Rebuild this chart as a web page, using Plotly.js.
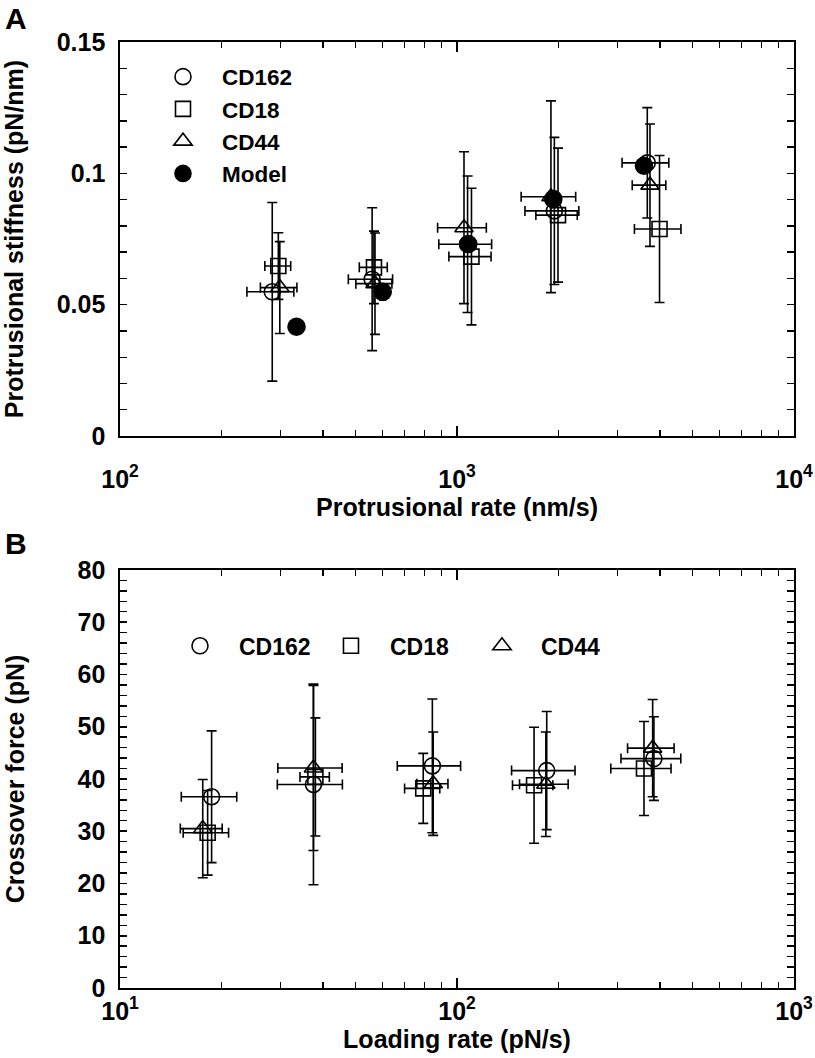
<!DOCTYPE html>
<html><head><meta charset="utf-8">
<script src="https://cdn.plot.ly/plotly-3.0.1.min.js"></script>
<style>html,body{margin:0;padding:0;background:#fff}#chart{width:815px;height:1058px}</style>
</head><body><div id="chart"></div>
<script>
// ---------- Panel A: protrusional stiffness vs protrusional rate ----------
const aNames = ['CD162', 'CD18', 'CD44', 'Model'];
const aCD162_x = [283, 560, 1075, 1945, 3670];
const aCD162_y = [0.0549, 0.0597, 0.0730, 0.0857, 0.1040];
const aCD162_xerr = [45, 84, 192, 354, 581];
const aCD162_yerr = [0.034, 0.0272, 0.026, 0.028, 0.021];

const aCD18_x = [295, 567, 1104, 1994, 3990];
const aCD18_y = [0.0647, 0.0642, 0.0683, 0.0841, 0.0788];
const aCD18_xerr = [26, 54, 158, 280, 629];
const aCD18_yerr = [0.0127, 0.0138, 0.026, 0.0255, 0.028];

const aCD44_x = [298, 571, 1049, 1900, 3738];
const aCD44_y = [0.0565, 0.0580, 0.0793, 0.0911, 0.0955];
const aCD44_xerr = [37, 70, 173, 350, 427];
const aCD44_yerr = [0.0175, 0.0193, 0.0289, 0.0365, 0.0233];

const aModel_x = [334, 602, 1080, 1931, 3588];
const aModel_y = [0.0416, 0.0549, 0.0731, 0.0902, 0.1029];

const aTickVals = [100, 1000, 10000];
const aTickText = ['10<sup>2</sup>', '10<sup>3</sup>', '10<sup>4</sup>'];

// ---------- Panel B: crossover force vs loading rate ----------
const bNames = ['CD162', 'CD18', 'CD44'];
const bCD162_x = [18.7, 37.5, 84.5, 184.6, 384];
const bCD162_y = [36.6, 38.95, 42.5, 41.6, 43.9];
const bCD162_xerr = [3.5, 8.2, 18, 39.4, 77.4];
const bCD162_yerr = [12.6, 19.2, 12.8, 11.3, 8.0];

const bCD18_x = [18.2, 38, 79.4, 169.3, 358.8];
const bCD18_y = [29.7, 40.4, 38.2, 38.8, 42.0];
const bCD18_xerr = [2.8, 3.8, 9.5, 23.2, 72.8];
const bCD18_yerr = [8.1, 11.3, 6.7, 11.1, 9.0];

const bCD44_x = [17.6, 37.5, 85, 183.5, 380.7];
const bCD44_y = [30.5, 42.1, 39.1, 39.0, 45.9];
const bCD44_xerr = [2.5, 8.1, 9, 30.2, 60];
const bCD44_yerr = [9.4, 15.8, 9.9, 10.0, 9.3];

const bTickVals = [10, 100, 1000];
const bTickText = ['10<sup>1</sup>', '10<sup>2</sup>', '10<sup>3</sup>'];

// ---------- styling ----------
const FONT = 'Liberation Sans, Arial, Helvetica, sans-serif';
const fnt = (size) => ({family: FONT, size: size, color: '#000', weight: 'bold'});
const errStyle = (arr) => ({type: 'data', array: arr, symmetric: true, visible: true,
  color: '#000', thickness: 1.6, width: 5});

function pts(name, x, y, xerr, yerr, symbol, xa, ya, legend, size) {
  const t = {
    type: 'scatter', mode: 'markers', name: name, x: x, y: y,
    xaxis: xa, yaxis: ya, legend: legend,
    marker: {symbol: symbol, size: size || 16, color: '#000', line: {color: '#000', width: 1.6}},
    cliponaxis: false
  };
  if (xerr) t.error_x = errStyle(xerr);
  if (yerr) t.error_y = errStyle(yerr);
  return t;
}

const data = [
  pts(aNames[0], aCD162_x, aCD162_y, aCD162_xerr, aCD162_yerr, 'circle-open', 'x', 'y', 'legend'),
  pts(aNames[1], aCD18_x, aCD18_y, aCD18_xerr, aCD18_yerr, 'square-open', 'x', 'y', 'legend', 15),
  pts(aNames[2], aCD44_x, aCD44_y, aCD44_xerr, aCD44_yerr, 'triangle-up-open', 'x', 'y', 'legend'),
  pts(aNames[3], aModel_x, aModel_y, null, null, 'circle', 'x', 'y', 'legend', 17),
  pts(bNames[0], bCD162_x, bCD162_y, bCD162_xerr, bCD162_yerr, 'circle-open', 'x2', 'y2', 'legend2'),
  pts(bNames[1], bCD18_x, bCD18_y, bCD18_xerr, bCD18_yerr, 'square-open', 'x2', 'y2', 'legend2', 15),
  pts(bNames[2], bCD44_x, bCD44_y, bCD44_xerr, bCD44_yerr, 'triangle-up-open', 'x2', 'y2', 'legend2')
];

function logX(range, anchor, title, tickvals, ticktext, labelStandoff, titleStandoff) {
  return {
    type: 'log', range: range, tickmode: 'array', tickvals: tickvals, ticktext: ticktext,
    anchor: anchor, domain: [0, 1], automargin: false,
    showline: true, linecolor: '#000', linewidth: 1.6, mirror: 'ticks',
    ticks: 'inside', ticklen: 10, tickwidth: 1.6, tickcolor: '#000',
    minor: {dtick: 'D1', ticks: 'inside', ticklen: 6, tickwidth: 1.4, tickcolor: '#000', showgrid: false},
    showgrid: false, zeroline: false, tickfont: fnt(25), ticklabelstandoff: labelStandoff,
    title: {text: title, font: fnt(25), standoff: titleStandoff}
  };
}
function linY(range, dtick, minorDtick, domain, anchor, title, standoff) {
  return {
    range: range, dtick: dtick, tick0: 0, domain: domain, anchor: anchor, automargin: false,
    showline: true, linecolor: '#000', linewidth: 1.6, mirror: 'ticks',
    ticks: 'inside', ticklen: 7, tickwidth: 1.6, tickcolor: '#000',
    minor: {dtick: minorDtick, ticks: 'inside', ticklen: 7, tickwidth: 1.4, tickcolor: '#000', showgrid: false},
    showgrid: false, zeroline: false, tickfont: fnt(25), ticklabelstandoff: 8,
    title: {text: title, font: fnt(25), standoff: standoff}
  };
}

const layout = {
  width: 815, height: 1058,
  margin: {l: 120, r: 21, t: 42, b: 70},
  paper_bgcolor: '#fff', plot_bgcolor: '#fff',
  font: fnt(23),
  xaxis: logX([2, 4], 'y', 'Protrusional rate (nm/s)', aTickVals, aTickText, 20, 1),
  yaxis: linY([0, 0.15], 0.05, 0.01, [0.5835, 1], 'x', 'Protrusional stiffness (pN/nm)', 26),
  xaxis2: logX([1, 3], 'y2', 'Loading rate (pN/s)', bTickVals, bTickText, 0, 1),
  yaxis2: linY([0, 80], 10, 2, [0, 0.4419], 'x2', 'Crossover force (pN)', 46),
  legend: {x: 0.0356, y: 0.9857, xanchor: 'left', yanchor: 'top', orientation: 'v',
    itemwidth: 68, font: fnt(22.5), bgcolor: 'rgba(0,0,0,0)', borderwidth: 0},
  legend2: {x: 0.0608, y: 0.3844, xanchor: 'left', yanchor: 'top', orientation: 'h',
    itemwidth: 68, entrywidth: 68, font: fnt(23), bgcolor: 'rgba(0,0,0,0)', borderwidth: 0},
  annotations: [
    {text: 'A', xref: 'paper', yref: 'paper', x: -0.1543, y: 1.0444, xanchor: 'center', yanchor: 'top',
     showarrow: false, font: fnt(30)},
    {text: 'B', xref: 'paper', yref: 'paper', x: -0.1543, y: 0.4704, xanchor: 'center', yanchor: 'middle',
     showarrow: false, font: fnt(30)}
  ],
  showlegend: true
};

Plotly.newPlot('chart', data, layout, {staticPlot: true, displayModeBar: false});
</script>
</body></html>
